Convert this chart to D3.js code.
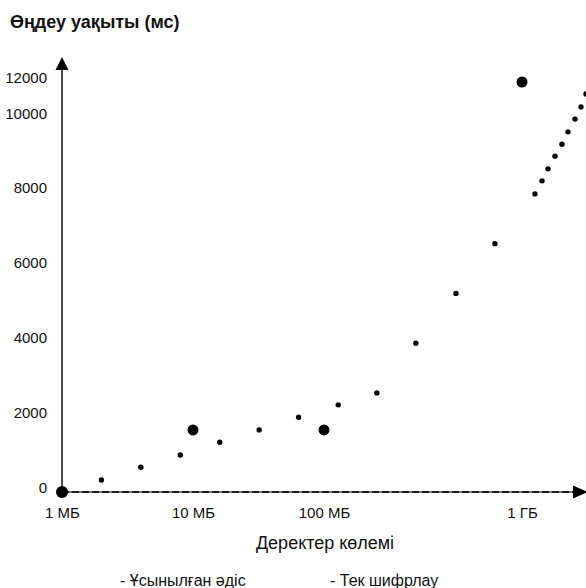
<!DOCTYPE html>
<html>
<head>
<meta charset="utf-8">
<script src="https://cdn.jsdelivr.net/npm/d3@7"></script>
<style>
  html, body { margin: 0; padding: 0; background: #fff; }
  svg { display: block; }
  text { font-family: "Liberation Sans", Arial, sans-serif; fill: #111; }
</style>
</head>
<body>
<svg id="chart" width="586" height="588"></svg>
<script>
// Data volume (MB) on the horizontal axis, processing time (ms) on the vertical axis
const sizeTicksMB = [1, 10, 100, 1000];
const sizeTickLabels = ["1 МБ", "10 МБ", "100 МБ", "1 ГБ"];
const timeTicks = [0, 2000, 4000, 6000, 8000, 10000, 12000];

// Proposed method
const proposedSizeMB = [1, 10, 100, 1000];
const proposedTimeMs = [0, 1660, 1660, 12000];

// Encryption only
const encryptSizeMB = [2, 4, 8, 16, 32, 64, 118, 185, 291, 464, 730,
                       1163, 1262, 1353, 1468, 1592, 1707, 1852, 1986, 2105];
const encryptTimeMs = [320, 660, 990, 1330, 1660, 2000, 2330, 2650, 3980, 5310, 6640,
                       7970, 8320, 8640, 8980, 9300, 9630, 9970, 10610, 11330];

const legendLabels = ["- Ұсынылған әдіс", "- Тек шифрлау"];

const svg = d3.select("#chart");

const x = d3.scaleLog().domain(sizeTicksMB).range([62, 193, 324, 522]);
const y = d3.scaleLinear().domain([0, 10000, 12000]).range([492, 118, 82]);

const x0 = x(1), y0 = y(0);

// Title of the vertical axis
svg.append("text")
  .attr("x", 10).attr("y", 28)
  .attr("font-size", 18).attr("font-weight", "bold")
  .text("Өңдеу уақыты (мс)");

// Vertical axis line with arrow
svg.append("line")
  .attr("x1", x0).attr("x2", x0)
  .attr("y1", y0).attr("y2", 66)
  .attr("stroke", "#222").attr("stroke-width", 1.6);
svg.append("path")
  .attr("d", `M${x0},57 L${x0 - 6.5},70 L${x0 + 6.5},70 Z`)
  .attr("fill", "#000");

// Horizontal axis line with arrow
svg.append("line")
  .attr("x1", x0).attr("x2", 578)
  .attr("y1", y0).attr("y2", y0)
  .attr("stroke", "#444").attr("stroke-width", 1.6);
svg.append("line")
  .attr("x1", x0).attr("x2", 578)
  .attr("y1", y0).attr("y2", y0)
  .attr("stroke", "#000").attr("stroke-width", 1.6)
  .attr("stroke-dasharray", "7,3");
svg.append("path")
  .attr("d", `M588,${y0} L573,${y0 - 6.5} L573,${y0 + 6.5} Z`)
  .attr("fill", "#000");

// Tick labels
const yAxis = d3.axisLeft(y).tickValues(timeTicks).tickSize(0).tickPadding(15)
  .tickFormat(d3.format("d"));
const gy = svg.append("g").attr("transform", `translate(${x0},0)`).call(yAxis);
gy.select(".domain").remove();
gy.selectAll("text")
  .attr("dy", "0em")
  .attr("font-family", "Liberation Sans, Arial, sans-serif")
  .attr("font-size", 15).attr("fill", "#111");

const xAxis = d3.axisBottom(x).tickValues(sizeTicksMB).tickSize(0).tickPadding(15)
  .tickFormat((d, i) => sizeTickLabels[i]);
const gx = svg.append("g").attr("transform", `translate(0,${y0})`).call(xAxis);
gx.select(".domain").remove();
gx.selectAll("text")
  .attr("font-family", "Liberation Sans, Arial, sans-serif")
  .attr("font-size", 15).attr("fill", "#111");

// Title of the horizontal axis
svg.append("text")
  .attr("x", 325).attr("y", 549)
  .attr("text-anchor", "middle")
  .attr("font-size", 18)
  .text("Деректер көлемі");

// Encryption-only points
svg.append("g").selectAll("circle")
  .data(encryptSizeMB.map((s, i) => [s, encryptTimeMs[i]]))
  .join("circle")
  .attr("cx", d => x(d[0]))
  .attr("cy", d => y(d[1]))
  .attr("r", 2.7)
  .attr("fill", "#000");

// Proposed-method points
svg.append("g").selectAll("circle")
  .data(proposedSizeMB.map((s, i) => [s, proposedTimeMs[i]]))
  .join("circle")
  .attr("cx", d => x(d[0]))
  .attr("cy", d => y(d[1]))
  .attr("r", (d, i) => i === 0 ? 6 : 5.5)
  .attr("fill", "#000");

// Legend
svg.append("text")
  .attr("x", 120).attr("y", 586)
  .attr("font-size", 16)
  .text(legendLabels[0]);
svg.append("text")
  .attr("x", 330).attr("y", 586)
  .attr("font-size", 16)
  .text(legendLabels[1]);
</script>
</body>
</html>
